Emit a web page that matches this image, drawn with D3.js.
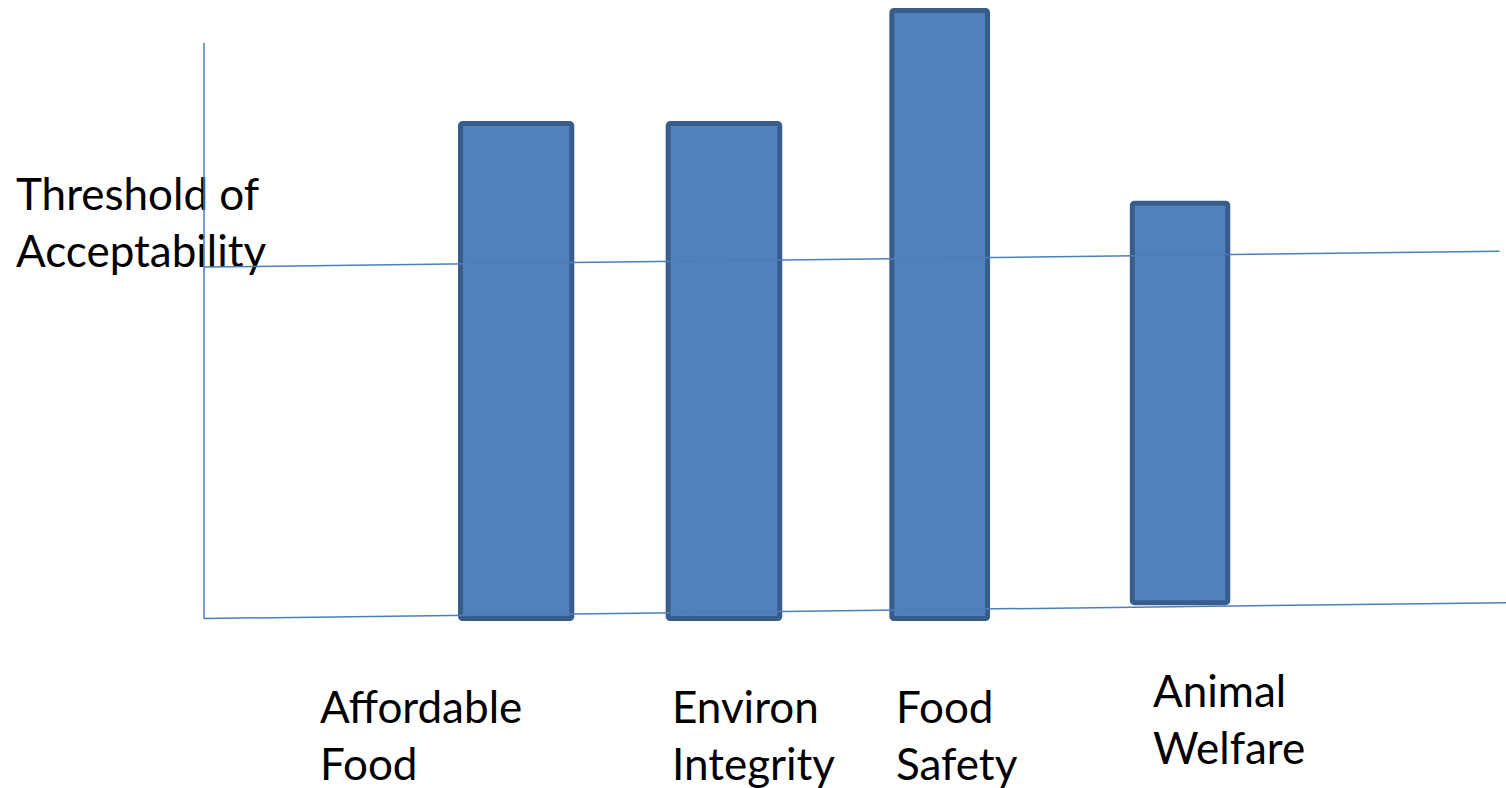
<!DOCTYPE html>
<html lang="en">
<head>
  <meta charset="UTF-8">
  <title>Threshold of Acceptability</title>
  <script src="https://d3js.org/d3.v7.min.js"></script>
  <style>
    * { margin: 0; padding: 0; }
    body { background: #fff; }
    .label { font-family: 'Lato', 'Open Sans', sans-serif; font-size: 44px; fill: #000; }
    .bar { fill: #4f81bd; stroke: #385d8a; stroke-width: 5px; }
    .guide { stroke: #4a7ebb; stroke-width: 1.5px; fill: none; }
  </style>
</head>
<body>
  <svg width="1506" height="788"></svg>
  <script>
    // categories, in label lines
    var categories = [["Affordable", "Food"], ["Environ", "Integrity"], ["Food", "Safety"], ["Animal", "Welfare"]];
    // bar top and bottom, in value units (0-100)
    var barTop = [81.4, 81.4, 100, 68.3];
    var barBase = [0, 0, 0, 2.6];
    // bar left / right edges along the horizontal axis (0-100)
    var barLeft = [19.7, 35.65, 52.83, 71.3];
    var barRight = [28.25, 44.22, 60.18, 78.63];
    // slanted guide lines: value at the left end and the right end
    var baseLine = [0, 2.6];
    var thresholdLine = [57.8, 60.4];
    var yAxisTop = 94.7;
    var yTitle = ["Threshold of", "Acceptability"];

    var svg = d3.select("svg");
    var x = d3.scaleLinear().domain([0, 100]).range([204, 1506]);
    var y = d3.scaleLinear().domain([0, 100]).range([618.5, 10.5]);

    // y title
    svg.append("text").attr("class", "label")
      .attr("x", 16).attr("y", 210)
      .selectAll("tspan").data(yTitle).enter().append("tspan")
      .attr("x", 16).attr("dy", function(d, i) { return i ? 57 : 0; })
      .text(function(d) { return d; });

    // category labels
    var labelX = [320, 672, 896, 1153];
    var labelY = [723, 723, 723, 707];
    categories.forEach(function(lines, i) {
      svg.append("text").attr("class", "label")
        .attr("x", labelX[i]).attr("y", labelY[i])
        .selectAll("tspan").data(lines).enter().append("tspan")
        .attr("x", labelX[i]).attr("dy", function(d, j) { return j ? 57 : 0; })
        .text(function(d) { return d; });
    });

    // bars
    svg.selectAll("rect.bar")
      .data(barTop)
      .enter().append("rect")
      .attr("class", "bar")
      .attr("rx", 2)
      .attr("x", function(d, i) { return x(barLeft[i]); })
      .attr("width", function(d, i) { return x(barRight[i]) - x(barLeft[i]); })
      .attr("y", function(d) { return y(d); })
      .attr("height", function(d, i) { return y(barBase[i]) - y(d); });

    // axis and guide lines
    svg.append("line").attr("class", "guide")
      .attr("x1", x(0)).attr("x2", x(0))
      .attr("y1", y(yAxisTop)).attr("y2", y(0));
    svg.append("line").attr("class", "guide")
      .attr("x1", x(0)).attr("x2", x(100))
      .attr("y1", y(baseLine[0])).attr("y2", y(baseLine[1]));
    svg.append("line").attr("class", "guide")
      .attr("x1", x(0)).attr("x2", x(99.5))
      .attr("y1", y(thresholdLine[0])).attr("y2", y(thresholdLine[1]));
  </script>
</body>
</html>
